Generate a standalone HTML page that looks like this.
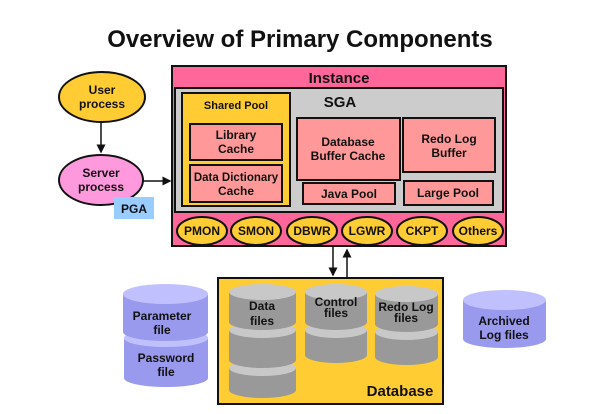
<!DOCTYPE html>
<html><head><style>
html,body{margin:0;padding:0;background:#fff;}
svg{display:block;}
text{font-family:"Liberation Sans",Arial,sans-serif;font-weight:bold;text-anchor:middle;fill:#111;}
</style></head><body>
<svg width="606" height="414" viewBox="0 0 606 414" xmlns="http://www.w3.org/2000/svg">
<defs>
<marker id="ah" markerWidth="6" markerHeight="6" refX="5" refY="3" orient="auto"><path d="M0,0 L6,3 L0,6 z" fill="#111"/></marker>
</defs>
<text x="300" y="47" font-size="24">Overview of Primary Components</text>

<!-- Left processes -->
<ellipse cx="102" cy="97" rx="43" ry="25" fill="#ffcc33" stroke="#111" stroke-width="2"/>
<text x="102" y="94" font-size="12">User</text>
<text x="102" y="108" font-size="12">process</text>
<line x1="101" y1="122" x2="101" y2="152" stroke="#111" stroke-width="1.5" marker-end="url(#ah)"/>
<ellipse cx="101" cy="180" rx="42" ry="25" fill="#ff99dd" stroke="#111" stroke-width="2"/>
<text x="101" y="177" font-size="12">Server</text>
<text x="101" y="191" font-size="12">process</text>
<line x1="143" y1="181" x2="170" y2="181" stroke="#111" stroke-width="1.5" marker-end="url(#ah)"/>
<rect x="114" y="197" width="40" height="22" fill="#99ccff"/>
<text x="134" y="213" font-size="12">PGA</text>

<!-- Instance -->
<rect x="172" y="66" width="334" height="180" fill="#ff6699" stroke="#111" stroke-width="2"/>
<text x="339" y="83" font-size="15">Instance</text>
<rect x="175" y="88" width="328" height="124" fill="#cccccc" stroke="#111" stroke-width="2"/>
<text x="340" y="107" font-size="15">SGA</text>
<rect x="182" y="93" width="108" height="113" fill="#ffcc33" stroke="#111" stroke-width="2"/>
<text x="236" y="109" font-size="11">Shared Pool</text>
<rect x="190" y="124" width="92" height="36" fill="#ff9999" stroke="#111" stroke-width="2"/>
<text x="236" y="139" font-size="12">Library</text>
<text x="236" y="153" font-size="12">Cache</text>
<rect x="190" y="165" width="92" height="37" fill="#ff9999" stroke="#111" stroke-width="2"/>
<text x="236" y="181" font-size="11.5">Data Dictionary</text>
<text x="236" y="195" font-size="12">Cache</text>
<rect x="297" y="118" width="103" height="62" fill="#ff9999" stroke="#111" stroke-width="2"/>
<text x="348" y="146" font-size="12">Database</text>
<text x="348" y="160" font-size="12">Buffer Cache</text>
<rect x="403" y="118" width="92" height="54" fill="#ff9999" stroke="#111" stroke-width="2"/>
<text x="449" y="143" font-size="12">Redo Log</text>
<text x="449" y="157" font-size="12">Buffer</text>
<rect x="303" y="183" width="92" height="21" fill="#ff9999" stroke="#111" stroke-width="2"/>
<text x="349" y="198" font-size="12">Java Pool</text>
<rect x="404" y="181" width="89" height="24" fill="#ff9999" stroke="#111" stroke-width="2"/>
<text x="448" y="197" font-size="12">Large Pool</text>

<ellipse cx="202" cy="231" rx="25" ry="14" fill="#ffcc33" stroke="#111" stroke-width="2"/><text x="202" y="235" font-size="12">PMON</text>
<ellipse cx="256" cy="231" rx="25" ry="14" fill="#ffcc33" stroke="#111" stroke-width="2"/><text x="256" y="235" font-size="12">SMON</text>
<ellipse cx="312" cy="231" rx="25" ry="14" fill="#ffcc33" stroke="#111" stroke-width="2"/><text x="312" y="235" font-size="12">DBWR</text>
<ellipse cx="367" cy="231" rx="25" ry="14" fill="#ffcc33" stroke="#111" stroke-width="2"/><text x="367" y="235" font-size="12">LGWR</text>
<ellipse cx="422" cy="231" rx="25" ry="14" fill="#ffcc33" stroke="#111" stroke-width="2"/><text x="422" y="235" font-size="12">CKPT</text>
<ellipse cx="478" cy="231" rx="25" ry="14" fill="#ffcc33" stroke="#111" stroke-width="2"/><text x="478" y="235" font-size="12">Others</text>

<!-- arrows -->
<line x1="333" y1="247" x2="333" y2="275" stroke="#111" stroke-width="1.5" marker-end="url(#ah)"/>
<line x1="347" y1="278" x2="347" y2="250" stroke="#111" stroke-width="1.5" marker-end="url(#ah)"/>

<!-- Database -->
<rect x="218" y="278" width="225" height="126" fill="#ffcc33" stroke="#111" stroke-width="2"/>
<text x="400" y="396" font-size="15">Database</text>

<g fill="#999999">
<rect x="229" y="368" width="67" height="22"/><ellipse cx="262.5" cy="390" rx="33.5" ry="8"/><ellipse cx="262.5" cy="368" rx="33.5" ry="8" fill="#c8c8c8"/>
<rect x="229" y="330" width="67" height="30"/><ellipse cx="262.5" cy="360" rx="33.5" ry="8"/><ellipse cx="262.5" cy="330" rx="33.5" ry="8" fill="#c8c8c8"/>
<rect x="229" y="292" width="67" height="30"/><ellipse cx="262.5" cy="322" rx="33.5" ry="8"/><ellipse cx="262.5" cy="292" rx="33.5" ry="8" fill="#c8c8c8"/>
</g>
<text x="262" y="310" font-size="12">Data</text>
<text x="262" y="325" font-size="12">files</text>

<g fill="#999999">
<rect x="305" y="330" width="62" height="25"/><ellipse cx="336" cy="355" rx="31" ry="8"/><ellipse cx="336" cy="330" rx="31" ry="8" fill="#c8c8c8"/>
<rect x="305" y="292" width="62" height="30"/><ellipse cx="336" cy="322" rx="31" ry="8"/><ellipse cx="336" cy="292" rx="31" ry="8" fill="#c8c8c8"/>
</g>
<text x="336" y="306" font-size="12">Control</text>
<text x="336" y="317" font-size="12">files</text>

<g fill="#999999">
<rect x="375" y="332" width="63" height="25"/><ellipse cx="406.5" cy="357" rx="31.5" ry="8"/><ellipse cx="406.5" cy="332" rx="31.5" ry="8" fill="#c8c8c8"/>
<rect x="375" y="294" width="63" height="30"/><ellipse cx="406.5" cy="324" rx="31.5" ry="8"/><ellipse cx="406.5" cy="294" rx="31.5" ry="8" fill="#c8c8c8"/>
</g>
<text x="406" y="311" font-size="12">Redo Log</text>
<text x="406" y="322" font-size="12">files</text>

<g fill="#9999ee">
<rect x="124" y="338" width="84" height="40"/><ellipse cx="166" cy="378" rx="42" ry="9"/><ellipse cx="166" cy="338" rx="42" ry="9" fill="#c0c0ff"/>
<rect x="123" y="294" width="85" height="38"/><ellipse cx="165.5" cy="332" rx="42.5" ry="9"/><ellipse cx="165.5" cy="294" rx="42.5" ry="10" fill="#c0c0ff"/>
</g>
<text x="162" y="320" font-size="12">Parameter</text>
<text x="162" y="334" font-size="12">file</text>
<text x="166" y="362" font-size="12">Password</text>
<text x="166" y="376" font-size="12">file</text>

<g fill="#9999ee">
<rect x="463" y="300" width="83" height="39"/><ellipse cx="504.5" cy="339" rx="41.5" ry="9"/><ellipse cx="504.5" cy="300" rx="41.5" ry="10" fill="#c0c0ff"/>
</g>
<text x="504" y="325" font-size="12">Archived</text>
<text x="504" y="339" font-size="12">Log files</text>
</svg>
</body></html>
